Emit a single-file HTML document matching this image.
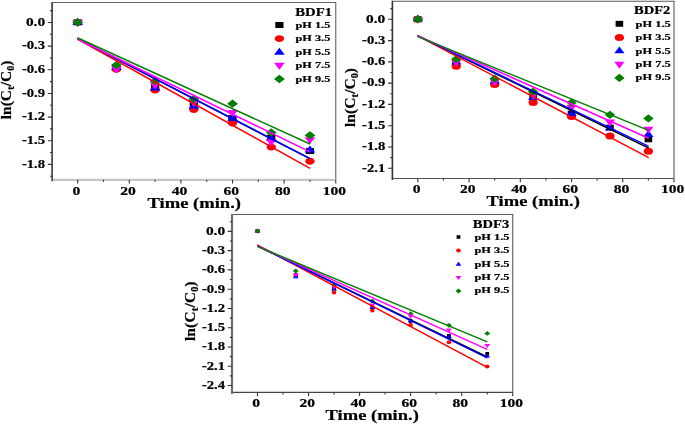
<!DOCTYPE html>
<html><head><meta charset="utf-8"><style>
html,body{margin:0;padding:0;background:#fff;}
svg{display:block;filter:blur(0.3px);}
text{font-family:"Liberation Serif",serif;font-weight:bold;fill:#000;stroke:#000;stroke-width:0.2px;}
</style></head><body>
<svg width="685" height="424" viewBox="0 0 685 424">
<rect width="685" height="424" fill="#fff"/>
<path d="M52.1 2.5H335.76V179.85" fill="none" stroke="#626262" stroke-width="1.1"/>
<path d="M52.1 179.85H335.76" fill="none" stroke="#c6c6c6" stroke-width="2.1"/>
<path d="M52.1 2V181.35" fill="none" stroke="#444" stroke-width="1.7"/>
<path d="M50 10.67H52.1M47.8 22.49H52.1M50 34.31H52.1M47.8 46.14H52.1M50 57.96H52.1M47.8 69.79H52.1M50 81.61H52.1M47.8 93.44H52.1M50 105.26H52.1M47.8 117.09H52.1M50 128.91H52.1M47.8 140.73H52.1M50 152.56H52.1M47.8 164.38H52.1M50 176.21H52.1M77.66 179.85V183.55M103.47 179.85V181.85M129.28 179.85V183.55M155.09 179.85V181.85M180.9 179.85V183.55M206.71 179.85V181.85M232.52 179.85V183.55M258.33 179.85V181.85M284.14 179.85V183.55M309.95 179.85V181.85M335.76 179.85V183.55" fill="none" stroke="#333" stroke-width="1.1"/>
<text x="45.1" y="25.79" font-size="11.5" text-anchor="end" textLength="19.2" lengthAdjust="spacingAndGlyphs">0.0</text>
<text x="45.1" y="49.44" font-size="11.5" text-anchor="end" textLength="23.2" lengthAdjust="spacingAndGlyphs">-0.3</text>
<text x="45.1" y="73.09" font-size="11.5" text-anchor="end" textLength="23.2" lengthAdjust="spacingAndGlyphs">-0.6</text>
<text x="45.1" y="96.74" font-size="11.5" text-anchor="end" textLength="23.2" lengthAdjust="spacingAndGlyphs">-0.9</text>
<text x="45.1" y="120.39" font-size="11.5" text-anchor="end" textLength="23.2" lengthAdjust="spacingAndGlyphs">-1.2</text>
<text x="45.1" y="144.04" font-size="11.5" text-anchor="end" textLength="23.2" lengthAdjust="spacingAndGlyphs">-1.5</text>
<text x="45.1" y="167.68" font-size="11.5" text-anchor="end" textLength="23.2" lengthAdjust="spacingAndGlyphs">-1.8</text>
<text x="76.36" y="195" font-size="11.5" text-anchor="middle" textLength="7.8" lengthAdjust="spacingAndGlyphs">0</text>
<text x="127.98" y="195" font-size="11.5" text-anchor="middle" textLength="15.6" lengthAdjust="spacingAndGlyphs">20</text>
<text x="179.6" y="195" font-size="11.5" text-anchor="middle" textLength="15.6" lengthAdjust="spacingAndGlyphs">40</text>
<text x="231.22" y="195" font-size="11.5" text-anchor="middle" textLength="15.6" lengthAdjust="spacingAndGlyphs">60</text>
<text x="282.84" y="195" font-size="11.5" text-anchor="middle" textLength="15.6" lengthAdjust="spacingAndGlyphs">80</text>
<text x="334.46" y="195" font-size="11.5" text-anchor="middle" textLength="23.3" lengthAdjust="spacingAndGlyphs">100</text>
<text x="147.5" y="207.8" font-size="14.5" text-anchor="start" textLength="93.5" lengthAdjust="spacingAndGlyphs">Time (min.)</text>
<text transform="translate(11 119.2) rotate(-90)" font-size="15" textLength="58.5" lengthAdjust="spacingAndGlyphs">ln(C<tspan font-size="11.25" dy="3.2">t</tspan><tspan dy="-3.2">/C</tspan><tspan font-size="9.75" dy="3.2">0</tspan><tspan dy="-3.2">)</tspan></text>
<rect x="73.56" y="19.3" width="8.2" height="6" fill="#000000"/>
<rect x="112.28" y="64.83" width="8.2" height="6" fill="#000000"/>
<rect x="150.99" y="84.45" width="8.2" height="6" fill="#000000"/>
<rect x="189.71" y="100.63" width="8.2" height="6" fill="#000000"/>
<rect x="228.42" y="115.07" width="8.2" height="6" fill="#000000"/>
<rect x="267.13" y="134.69" width="8.2" height="6" fill="#000000"/>
<rect x="305.85" y="148.04" width="8.2" height="6" fill="#000000"/>
<ellipse cx="77.66" cy="22.3" rx="4.7" ry="3.45" fill="#ff0000"/>
<ellipse cx="116.38" cy="69.4" rx="4.7" ry="3.45" fill="#ff0000"/>
<ellipse cx="155.09" cy="89.97" rx="4.7" ry="3.45" fill="#ff0000"/>
<ellipse cx="193.81" cy="109.51" rx="4.7" ry="3.45" fill="#ff0000"/>
<ellipse cx="232.52" cy="123.02" rx="4.7" ry="3.45" fill="#ff0000"/>
<ellipse cx="271.24" cy="147.12" rx="4.7" ry="3.45" fill="#ff0000"/>
<ellipse cx="309.95" cy="161.25" rx="4.7" ry="3.45" fill="#ff0000"/>
<path d="M77.66 17.63L83.06 24.63L72.26 24.63Z" fill="#0000ff"/>
<path d="M116.38 63.01L121.78 70.01L110.97 70.01Z" fill="#0000ff"/>
<path d="M155.09 83.57L160.49 90.57L149.69 90.57Z" fill="#0000ff"/>
<path d="M193.81 101.86L199.21 108.86L188.41 108.86Z" fill="#0000ff"/>
<path d="M232.52 113.64L237.92 120.64L227.12 120.64Z" fill="#0000ff"/>
<path d="M271.24 133.66L276.63 140.66L265.84 140.66Z" fill="#0000ff"/>
<path d="M309.95 145.59L315.35 152.59L304.55 152.59Z" fill="#0000ff"/>
<path d="M72.26 19.97L83.06 19.97L77.66 26.97Z" fill="#ff00ff"/>
<path d="M110.97 66.6L121.78 66.6L116.38 73.6Z" fill="#ff00ff"/>
<path d="M149.69 82.45L160.49 82.45L155.09 89.45Z" fill="#ff00ff"/>
<path d="M188.41 100.04L199.21 100.04L193.81 107.04Z" fill="#ff00ff"/>
<path d="M227.12 110.08L237.92 110.08L232.52 117.08Z" fill="#ff00ff"/>
<path d="M265.84 139.29L276.63 139.29L271.24 146.29Z" fill="#ff00ff"/>
<path d="M304.55 137.17L315.35 137.17L309.95 144.17Z" fill="#ff00ff"/>
<path d="M77.66 18.15L83.06 22.3L77.66 26.45L72.26 22.3Z" fill="#008000"/>
<path d="M116.38 60.93L121.78 65.08L116.38 69.23L110.97 65.08Z" fill="#008000"/>
<path d="M155.09 77.02L160.49 81.17L155.09 85.33L149.69 81.17Z" fill="#008000"/>
<path d="M193.81 94.77L199.21 98.92L193.81 103.07L188.41 98.92Z" fill="#008000"/>
<path d="M232.52 99.48L237.92 103.63L232.52 107.78L227.12 103.63Z" fill="#008000"/>
<path d="M271.24 128.29L276.63 132.44L271.24 136.59L265.84 132.44Z" fill="#008000"/>
<path d="M309.95 131.19L315.35 135.34L309.95 139.49L304.55 135.34Z" fill="#008000"/>
<line x1="77.4" y1="38.7" x2="310" y2="158.7" stroke="#000000" stroke-width="1.5"/>
<line x1="77.4" y1="39" x2="310" y2="168.4" stroke="#ff0000" stroke-width="1.5"/>
<line x1="77.4" y1="38.7" x2="310" y2="158.7" stroke="#0000ff" stroke-width="1.5"/>
<line x1="77.4" y1="39" x2="310" y2="151.8" stroke="#ff00ff" stroke-width="1.5"/>
<line x1="77.4" y1="37.8" x2="310" y2="144" stroke="#008000" stroke-width="1.5"/>
<text x="295.3" y="15.7" font-size="11.5" text-anchor="start" textLength="36.8" lengthAdjust="spacingAndGlyphs">BDF1</text>
<rect x="275.3" y="22" width="8.2" height="6" fill="#000000"/>
<text x="295.5" y="27.8" font-size="8.8" text-anchor="start" textLength="34.8" lengthAdjust="spacingAndGlyphs">pH 1.5</text>
<ellipse cx="279.4" cy="38.6" rx="4.7" ry="3.45" fill="#ff0000"/>
<text x="295.5" y="41.3" font-size="8.8" text-anchor="start" textLength="34.8" lengthAdjust="spacingAndGlyphs">pH 3.5</text>
<path d="M279.4 47.63L284.8 54.63L274 54.63Z" fill="#0000ff"/>
<text x="295.5" y="55.2" font-size="8.8" text-anchor="start" textLength="34.8" lengthAdjust="spacingAndGlyphs">pH 5.5</text>
<path d="M274 62.87L284.8 62.87L279.4 69.87Z" fill="#ff00ff"/>
<text x="295.5" y="68.2" font-size="8.8" text-anchor="start" textLength="34.8" lengthAdjust="spacingAndGlyphs">pH 7.5</text>
<path d="M279.4 74.85L284.8 79L279.4 83.15L274 79Z" fill="#008000"/>
<text x="295.5" y="81.7" font-size="8.8" text-anchor="start" textLength="34.8" lengthAdjust="spacingAndGlyphs">pH 9.5</text>
<path d="M392.38 1.3H674V178.45" fill="none" stroke="#5a5a5a" stroke-width="1.1"/>
<path d="M392.38 178.45H674" fill="none" stroke="#555" stroke-width="1.1"/>
<path d="M392.38 0.8V179.95" fill="none" stroke="#333" stroke-width="1.6"/>
<path d="M390.28 8.66H392.38M388.08 19.3H392.38M390.28 29.94H392.38M388.08 40.58H392.38M390.28 51.21H392.38M388.08 61.85H392.38M390.28 72.49H392.38M388.08 83.13H392.38M390.28 93.77H392.38M388.08 104.4H392.38M390.28 115.04H392.38M388.08 125.68H392.38M390.28 136.32H392.38M388.08 146.96H392.38M390.28 157.59H392.38M388.08 168.23H392.38M417.85 178.45V182.15M443.47 178.45V180.45M469.08 178.45V182.15M494.7 178.45V180.45M520.31 178.45V182.15M545.93 178.45V180.45M571.54 178.45V182.15M597.15 178.45V180.45M622.77 178.45V182.15M648.38 178.45V180.45M674 178.45V182.15" fill="none" stroke="#333" stroke-width="1.1"/>
<text x="385.3" y="22.6" font-size="11.5" text-anchor="end" textLength="19.2" lengthAdjust="spacingAndGlyphs">0.0</text>
<text x="385.3" y="43.88" font-size="11.5" text-anchor="end" textLength="23.2" lengthAdjust="spacingAndGlyphs">-0.3</text>
<text x="385.3" y="65.15" font-size="11.5" text-anchor="end" textLength="23.2" lengthAdjust="spacingAndGlyphs">-0.6</text>
<text x="385.3" y="86.43" font-size="11.5" text-anchor="end" textLength="23.2" lengthAdjust="spacingAndGlyphs">-0.9</text>
<text x="385.3" y="107.7" font-size="11.5" text-anchor="end" textLength="23.2" lengthAdjust="spacingAndGlyphs">-1.2</text>
<text x="385.3" y="128.98" font-size="11.5" text-anchor="end" textLength="23.2" lengthAdjust="spacingAndGlyphs">-1.5</text>
<text x="385.3" y="150.26" font-size="11.5" text-anchor="end" textLength="23.2" lengthAdjust="spacingAndGlyphs">-1.8</text>
<text x="385.3" y="171.53" font-size="11.5" text-anchor="end" textLength="23.2" lengthAdjust="spacingAndGlyphs">-2.1</text>
<text x="416.55" y="193.2" font-size="11.5" text-anchor="middle" textLength="7.8" lengthAdjust="spacingAndGlyphs">0</text>
<text x="467.78" y="193.2" font-size="11.5" text-anchor="middle" textLength="15.6" lengthAdjust="spacingAndGlyphs">20</text>
<text x="519.01" y="193.2" font-size="11.5" text-anchor="middle" textLength="15.6" lengthAdjust="spacingAndGlyphs">40</text>
<text x="570.24" y="193.2" font-size="11.5" text-anchor="middle" textLength="15.6" lengthAdjust="spacingAndGlyphs">60</text>
<text x="621.47" y="193.2" font-size="11.5" text-anchor="middle" textLength="15.6" lengthAdjust="spacingAndGlyphs">80</text>
<text x="672.7" y="193.2" font-size="11.5" text-anchor="middle" textLength="23.3" lengthAdjust="spacingAndGlyphs">100</text>
<text x="486.6" y="206.1" font-size="14.5" text-anchor="start" textLength="93.3" lengthAdjust="spacingAndGlyphs">Time (min.)</text>
<text transform="translate(355.1 127) rotate(-90)" font-size="15" textLength="59" lengthAdjust="spacingAndGlyphs">ln(C<tspan font-size="11.25" dy="3.2">t</tspan><tspan dy="-3.2">/C</tspan><tspan font-size="9.75" dy="3.2">0</tspan><tspan dy="-3.2">)</tspan></text>
<rect x="414.05" y="16.25" width="7.6" height="5.9" fill="#000000"/>
<rect x="452.47" y="59.48" width="7.6" height="5.9" fill="#000000"/>
<rect x="490.9" y="78.62" width="7.6" height="5.9" fill="#000000"/>
<rect x="529.32" y="94.21" width="7.6" height="5.9" fill="#000000"/>
<rect x="567.74" y="110.65" width="7.6" height="5.9" fill="#000000"/>
<rect x="606.16" y="124.61" width="7.6" height="5.9" fill="#000000"/>
<rect x="644.59" y="136.37" width="7.6" height="5.9" fill="#000000"/>
<ellipse cx="417.85" cy="19.2" rx="4.6" ry="3.5" fill="#ff0000"/>
<ellipse cx="456.27" cy="66.19" rx="4.6" ry="3.5" fill="#ff0000"/>
<ellipse cx="494.7" cy="84.4" rx="4.6" ry="3.5" fill="#ff0000"/>
<ellipse cx="533.12" cy="102.4" rx="4.6" ry="3.5" fill="#ff0000"/>
<ellipse cx="571.54" cy="116.5" rx="4.6" ry="3.5" fill="#ff0000"/>
<ellipse cx="609.96" cy="136.06" rx="4.6" ry="3.5" fill="#ff0000"/>
<ellipse cx="648.38" cy="151.16" rx="4.6" ry="3.5" fill="#ff0000"/>
<path d="M417.85 14.6L422.95 21.5L412.75 21.5Z" fill="#0000ff"/>
<path d="M456.27 57.69L461.37 64.59L451.17 64.59Z" fill="#0000ff"/>
<path d="M494.7 76.97L499.8 83.87L489.6 83.87Z" fill="#0000ff"/>
<path d="M533.12 93.05L538.22 99.95L528.02 99.95Z" fill="#0000ff"/>
<path d="M571.54 109L576.64 115.9L566.44 115.9Z" fill="#0000ff"/>
<path d="M609.96 123.67L615.06 130.57L604.86 130.57Z" fill="#0000ff"/>
<path d="M648.38 130.12L653.49 137.02L643.28 137.02Z" fill="#0000ff"/>
<path d="M412.75 16.9L422.95 16.9L417.85 23.8Z" fill="#ff00ff"/>
<path d="M451.17 59.78L461.37 59.78L456.27 66.68Z" fill="#ff00ff"/>
<path d="M489.6 79.27L499.8 79.27L494.7 86.17Z" fill="#ff00ff"/>
<path d="M528.02 93.01L538.22 93.01L533.12 99.91Z" fill="#ff00ff"/>
<path d="M566.44 104.78L576.64 104.78L571.54 111.68Z" fill="#ff00ff"/>
<path d="M604.86 119.59L615.06 119.59L609.96 126.49Z" fill="#ff00ff"/>
<path d="M643.28 126.75L653.49 126.75L648.38 133.65Z" fill="#ff00ff"/>
<path d="M417.85 15.05L423.05 19.2L417.85 23.35L412.65 19.2Z" fill="#008000"/>
<path d="M456.27 54.95L461.47 59.1L456.27 63.25L451.07 59.1Z" fill="#008000"/>
<path d="M494.7 74.44L499.9 78.59L494.7 82.74L489.5 78.59Z" fill="#008000"/>
<path d="M533.12 87.62L538.32 91.77L533.12 95.92L527.92 91.77Z" fill="#008000"/>
<path d="M571.54 98.46L576.74 102.61L571.54 106.76L566.34 102.61Z" fill="#008000"/>
<path d="M609.96 110.72L615.16 114.87L609.96 119.02L604.76 114.87Z" fill="#008000"/>
<path d="M648.38 114.27L653.59 118.42L648.38 122.57L643.18 118.42Z" fill="#008000"/>
<line x1="417.4" y1="35.6" x2="648.7" y2="148.1" stroke="#000000" stroke-width="1.5"/>
<line x1="417.4" y1="35.6" x2="648.7" y2="157.7" stroke="#ff0000" stroke-width="1.5"/>
<line x1="417.4" y1="35.6" x2="648.7" y2="146.4" stroke="#0000ff" stroke-width="1.5"/>
<line x1="417.4" y1="35.6" x2="648.7" y2="138.2" stroke="#ff00ff" stroke-width="1.5"/>
<line x1="417.4" y1="36.4" x2="648.7" y2="130.4" stroke="#008000" stroke-width="1.5"/>
<text x="634" y="14.2" font-size="11.5" text-anchor="start" textLength="36.3" lengthAdjust="spacingAndGlyphs">BDF2</text>
<rect x="615.6" y="20.85" width="7.6" height="5.9" fill="#000000"/>
<text x="635.5" y="26.7" font-size="8.8" text-anchor="start" textLength="35.2" lengthAdjust="spacingAndGlyphs">pH 1.5</text>
<ellipse cx="619.4" cy="37.5" rx="4.6" ry="3.5" fill="#ff0000"/>
<text x="635.5" y="40.1" font-size="8.8" text-anchor="start" textLength="35.2" lengthAdjust="spacingAndGlyphs">pH 3.5</text>
<path d="M619.4 46.4L624.5 53.3L614.3 53.3Z" fill="#0000ff"/>
<text x="635.5" y="53.7" font-size="8.8" text-anchor="start" textLength="35.2" lengthAdjust="spacingAndGlyphs">pH 5.5</text>
<path d="M614.3 61.8L624.5 61.8L619.4 68.7Z" fill="#ff00ff"/>
<text x="635.5" y="67.1" font-size="8.8" text-anchor="start" textLength="35.2" lengthAdjust="spacingAndGlyphs">pH 7.5</text>
<path d="M619.4 73.75L624.6 77.9L619.4 82.05L614.2 77.9Z" fill="#008000"/>
<text x="635.5" y="80.2" font-size="8.8" text-anchor="start" textLength="35.2" lengthAdjust="spacingAndGlyphs">pH 9.5</text>
<path d="M232 214.5H512.75V392.4" fill="none" stroke="#5a5a5a" stroke-width="1.1"/>
<path d="M232 392.4H512.75" fill="none" stroke="#444" stroke-width="1.1"/>
<path d="M232 214V393.9" fill="none" stroke="#6a6a6a" stroke-width="2.1"/>
<path d="M229.9 221.74H232M227.7 231.38H232M229.9 241.02H232M227.7 250.65H232M229.9 260.29H232M227.7 269.92H232M229.9 279.56H232M227.7 289.2H232M229.9 298.83H232M227.7 308.47H232M229.9 318.1H232M227.7 327.74H232M229.9 337.38H232M227.7 347.01H232M229.9 356.65H232M227.7 366.28H232M229.9 375.92H232M227.7 385.56H232M257.47 392.4V396.1M283 392.4V394.4M308.53 392.4V396.1M334.05 392.4V394.4M359.58 392.4V396.1M385.11 392.4V394.4M410.64 392.4V396.1M436.17 392.4V394.4M461.69 392.4V396.1M487.22 392.4V394.4M512.75 392.4V396.1" fill="none" stroke="#333" stroke-width="1.1"/>
<text x="225.1" y="234.68" font-size="11.5" text-anchor="end" textLength="19.2" lengthAdjust="spacingAndGlyphs">0.0</text>
<text x="225.1" y="253.95" font-size="11.5" text-anchor="end" textLength="23.2" lengthAdjust="spacingAndGlyphs">-0.3</text>
<text x="225.1" y="273.22" font-size="11.5" text-anchor="end" textLength="23.2" lengthAdjust="spacingAndGlyphs">-0.6</text>
<text x="225.1" y="292.5" font-size="11.5" text-anchor="end" textLength="23.2" lengthAdjust="spacingAndGlyphs">-0.9</text>
<text x="225.1" y="311.77" font-size="11.5" text-anchor="end" textLength="23.2" lengthAdjust="spacingAndGlyphs">-1.2</text>
<text x="225.1" y="331.04" font-size="11.5" text-anchor="end" textLength="23.2" lengthAdjust="spacingAndGlyphs">-1.5</text>
<text x="225.1" y="350.31" font-size="11.5" text-anchor="end" textLength="23.2" lengthAdjust="spacingAndGlyphs">-1.8</text>
<text x="225.1" y="369.58" font-size="11.5" text-anchor="end" textLength="23.2" lengthAdjust="spacingAndGlyphs">-2.1</text>
<text x="225.1" y="388.86" font-size="11.5" text-anchor="end" textLength="23.2" lengthAdjust="spacingAndGlyphs">-2.4</text>
<text x="256.17" y="407" font-size="11.5" text-anchor="middle" textLength="7.8" lengthAdjust="spacingAndGlyphs">0</text>
<text x="307.23" y="407" font-size="11.5" text-anchor="middle" textLength="15.6" lengthAdjust="spacingAndGlyphs">20</text>
<text x="358.28" y="407" font-size="11.5" text-anchor="middle" textLength="15.6" lengthAdjust="spacingAndGlyphs">40</text>
<text x="409.34" y="407" font-size="11.5" text-anchor="middle" textLength="15.6" lengthAdjust="spacingAndGlyphs">60</text>
<text x="460.39" y="407" font-size="11.5" text-anchor="middle" textLength="15.6" lengthAdjust="spacingAndGlyphs">80</text>
<text x="511.45" y="407" font-size="11.5" text-anchor="middle" textLength="23.3" lengthAdjust="spacingAndGlyphs">100</text>
<text x="325.6" y="420" font-size="14.5" text-anchor="start" textLength="93.2" lengthAdjust="spacingAndGlyphs">Time (min.)</text>
<text transform="translate(195.1 341) rotate(-90)" font-size="15" textLength="59.5" lengthAdjust="spacingAndGlyphs">ln(C<tspan font-size="11.25" dy="3.2">t</tspan><tspan dy="-3.2">/C</tspan><tspan font-size="9.75" dy="3.2">0</tspan><tspan dy="-3.2">)</tspan></text>
<rect x="255.57" y="229.3" width="3.8" height="3.6" fill="#000000"/>
<rect x="293.86" y="273.86" width="3.8" height="3.6" fill="#000000"/>
<rect x="332.15" y="286.78" width="3.8" height="3.6" fill="#000000"/>
<rect x="370.45" y="305.5" width="3.8" height="3.6" fill="#000000"/>
<rect x="408.74" y="319.2" width="3.8" height="3.6" fill="#000000"/>
<rect x="447.03" y="333.98" width="3.8" height="3.6" fill="#000000"/>
<rect x="485.32" y="351.94" width="3.8" height="3.6" fill="#000000"/>
<ellipse cx="257.47" cy="231.1" rx="2.3" ry="2" fill="#ff0000"/>
<ellipse cx="295.76" cy="275.08" rx="2.3" ry="2" fill="#ff0000"/>
<ellipse cx="334.05" cy="292.45" rx="2.3" ry="2" fill="#ff0000"/>
<ellipse cx="372.35" cy="310.4" rx="2.3" ry="2" fill="#ff0000"/>
<ellipse cx="410.64" cy="325.06" rx="2.3" ry="2" fill="#ff0000"/>
<ellipse cx="448.93" cy="342.24" rx="2.3" ry="2" fill="#ff0000"/>
<ellipse cx="487.22" cy="366.4" rx="2.3" ry="2" fill="#ff0000"/>
<path d="M257.47 228.43L260.37 232.43L254.57 232.43Z" fill="#0000ff"/>
<path d="M295.76 274.29L298.66 278.29L292.86 278.29Z" fill="#0000ff"/>
<path d="M334.05 286.56L336.95 290.56L331.15 290.56Z" fill="#0000ff"/>
<path d="M372.35 304.96L375.25 308.96L369.45 308.96Z" fill="#0000ff"/>
<path d="M410.64 318.33L413.54 322.33L407.74 322.33Z" fill="#0000ff"/>
<path d="M448.93 334.02L451.83 338.02L446.03 338.02Z" fill="#0000ff"/>
<path d="M487.22 353.46L490.12 357.46L484.32 357.46Z" fill="#0000ff"/>
<path d="M254.57 229.77L260.37 229.77L257.47 233.77Z" fill="#ff00ff"/>
<path d="M292.86 273.16L298.66 273.16L295.76 277.16Z" fill="#ff00ff"/>
<path d="M331.15 285.43L336.95 285.43L334.05 289.43Z" fill="#ff00ff"/>
<path d="M369.45 303.39L375.25 303.39L372.35 307.39Z" fill="#ff00ff"/>
<path d="M407.74 314.69L413.54 314.69L410.64 318.69Z" fill="#ff00ff"/>
<path d="M446.03 328.38L451.83 328.38L448.93 332.38Z" fill="#ff00ff"/>
<path d="M484.32 343.88L490.12 343.88L487.22 347.88Z" fill="#ff00ff"/>
<path d="M257.47 228.7L260.42 231.1L257.47 233.5L254.52 231.1Z" fill="#008000"/>
<path d="M295.76 268.61L298.71 271.01L295.76 273.41L292.81 271.01Z" fill="#008000"/>
<path d="M334.05 282.3L337 284.7L334.05 287.1L331.1 284.7Z" fill="#008000"/>
<path d="M372.35 298.77L375.3 301.17L372.35 303.57L369.4 301.17Z" fill="#008000"/>
<path d="M410.64 311.3L413.59 313.7L410.64 316.1L407.69 313.7Z" fill="#008000"/>
<path d="M448.93 322.92L451.88 325.32L448.93 327.72L445.98 325.32Z" fill="#008000"/>
<path d="M487.22 330.99L490.17 333.39L487.22 335.79L484.27 333.39Z" fill="#008000"/>
<line x1="257.2" y1="245.8" x2="487.3" y2="357" stroke="#000000" stroke-width="1.5"/>
<line x1="257.2" y1="244.8" x2="487.3" y2="367.4" stroke="#ff0000" stroke-width="1.5"/>
<line x1="257.2" y1="245.8" x2="487.3" y2="357.9" stroke="#0000ff" stroke-width="1.5"/>
<line x1="257.2" y1="246" x2="487.3" y2="349.4" stroke="#ff00ff" stroke-width="1.5"/>
<line x1="257.2" y1="246.4" x2="487.3" y2="341.9" stroke="#008000" stroke-width="1.5"/>
<text x="472.8" y="228" font-size="11.6" text-anchor="start" textLength="36.4" lengthAdjust="spacingAndGlyphs">BDF3</text>
<rect x="456.6" y="235.2" width="3.8" height="3.6" fill="#000000"/>
<text x="474.4" y="239.7" font-size="8.8" text-anchor="start" textLength="35.2" lengthAdjust="spacingAndGlyphs">pH 1.5</text>
<ellipse cx="458.5" cy="250.4" rx="2.3" ry="2" fill="#ff0000"/>
<text x="474.4" y="252.9" font-size="8.8" text-anchor="start" textLength="35.2" lengthAdjust="spacingAndGlyphs">pH 3.5</text>
<path d="M458.5 261.73L461.4 265.73L455.6 265.73Z" fill="#0000ff"/>
<text x="474.4" y="266.9" font-size="8.8" text-anchor="start" textLength="35.2" lengthAdjust="spacingAndGlyphs">pH 5.5</text>
<path d="M455.6 276.07L461.4 276.07L458.5 280.07Z" fill="#ff00ff"/>
<text x="474.4" y="280" font-size="8.8" text-anchor="start" textLength="35.2" lengthAdjust="spacingAndGlyphs">pH 7.5</text>
<path d="M458.5 288.6L461.45 291L458.5 293.4L455.55 291Z" fill="#008000"/>
<text x="474.4" y="293.4" font-size="8.8" text-anchor="start" textLength="35.2" lengthAdjust="spacingAndGlyphs">pH 9.5</text>
</svg>
</body></html>
